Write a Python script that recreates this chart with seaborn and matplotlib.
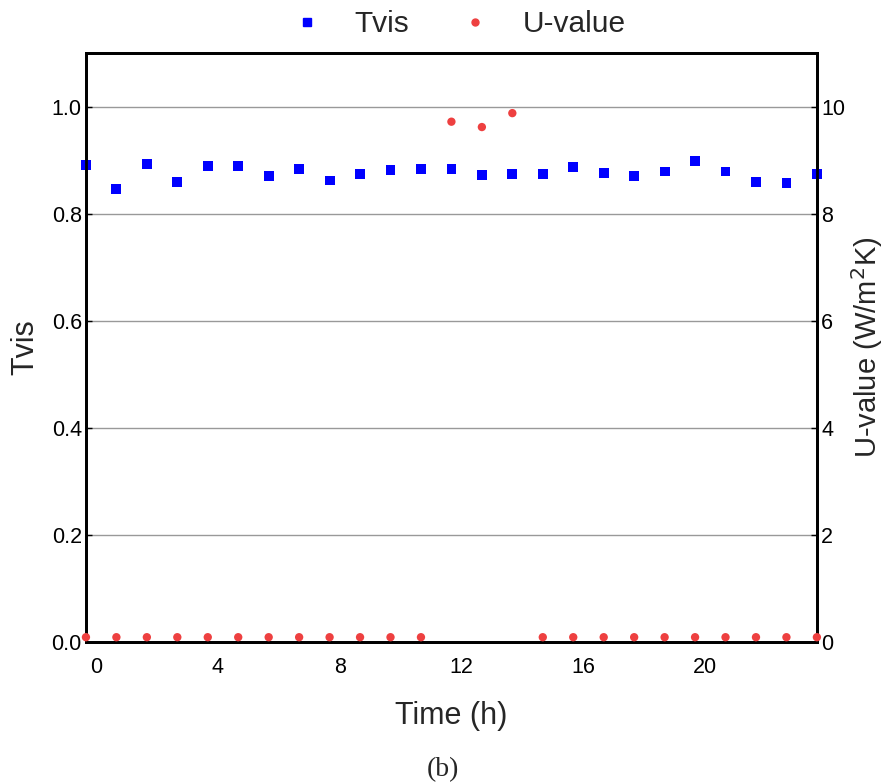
import numpy as np
import pandas as pd
import matplotlib
matplotlib.use("Agg")
import matplotlib.pyplot as plt
import seaborn as sns
from matplotlib.lines import Line2D

hours = [i - 0.33 for i in range(25)]
tvis = [0.891, 0.846, 0.893, 0.860, 0.889, 0.889, 0.870, 0.884, 0.862, 0.875,
        0.881, 0.884, 0.884, 0.873, 0.875, 0.875, 0.887, 0.876, 0.871, 0.879,
        0.898, 0.879, 0.860, 0.857, 0.874]
uvalue = [0.09, 0.09, 0.09, 0.09, 0.09, 0.09, 0.09, 0.09, 0.09, 0.09,
          0.09, 0.09, 9.72, 9.62, 9.88, 0.09, 0.09, 0.09, 0.09, 0.09,
          0.09, 0.09, 0.09, 0.09, 0.09]
x_ticks = [0, 4, 8, 12, 16, 20]
left_ticks = [0.0, 0.2, 0.4, 0.6, 0.8, 1.0]
right_ticks = [0, 2, 4, 6, 8, 10]

sns.set_style("white")
plt.rcParams['font.family'] = ['Liberation Sans', 'DejaVu Sans']

df = pd.DataFrame({"Time": hours, "Tvis": tvis, "U": uvalue})

fig = plt.figure(figsize=(8.86, 7.82), dpi=100)
ax = fig.add_axes([0.097, 0.179, 0.825, 0.753])
ax2 = ax.twinx()

ax.set_xlim(-0.33, 23.67)
ax.set_ylim(0, 1.1)
ax2.set_ylim(0, 11)

ax.set_yticks(left_ticks)
ax.set_yticklabels([f"{v:.1f}" for v in left_ticks])
ax2.set_yticks(right_ticks)
ax.set_xticks(x_ticks)
ax.yaxis.grid(True, color="#999999", linewidth=1)
ax.set_axisbelow(True)

sns.scatterplot(data=df, x="Time", y="Tvis", ax=ax, marker="s", s=50,
                color="#0000ff", edgecolor="none", zorder=3, clip_on=False)
sns.scatterplot(data=df, x="Time", y="U", ax=ax2, marker="o", s=36,
                color="#ee4040", edgecolor="none", zorder=3, clip_on=False)

for a in (ax, ax2):
    for sp in a.spines.values():
        sp.set_color("black")
        sp.set_linewidth(2)
    a.tick_params(labelsize=15.5, length=4, width=1, direction="in", colors="black")

ax.set_xlabel("Time (h)", fontsize=22, labelpad=16)
ax.set_ylabel("Tvis", fontsize=22, labelpad=8)
ax2.set_ylabel("U-value (W/m$^2$K)", fontsize=21, labelpad=3)
ax.tick_params(axis="x", pad=11)
ax.tick_params(axis="y", pad=3)
ax2.tick_params(axis="y", pad=3)

handles = [Line2D([], [], marker="s", color="#0000ff", linestyle="none", markersize=6),
           Line2D([], [], marker="o", color="#ee4040", linestyle="none", markersize=5)]
ax.legend(handles, ["Tvis", "U-value"], loc="lower center", bbox_to_anchor=(0.5, 1.0),
          ncol=2, frameon=False, fontsize=21.5, handletextpad=0.6, columnspacing=1.2,
          borderaxespad=0.1)

fig.text(0.5, 0.0, "(b)", ha="center", va="bottom", fontsize=20,
         family=["Liberation Serif", "DejaVu Serif"])

fig.savefig("out.png", dpi=100)
